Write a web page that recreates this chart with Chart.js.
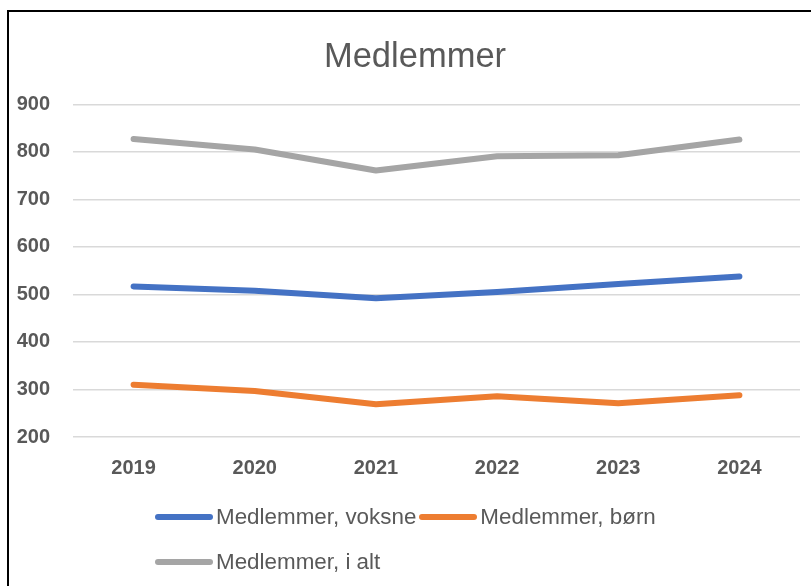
<!DOCTYPE html>
<html>
<head>
<meta charset="utf-8">
<script src="https://cdn.jsdelivr.net/npm/chart.js@4"></script>
<style>
  html, body { margin: 0; padding: 0; background: #fff; overflow: hidden; }
  #wrap { position: relative; width: 811px; height: 586px; overflow: hidden; }
  #frame { position: absolute; left: 7px; top: 10px; width: 1000px; height: 1000px;
           border-left: 2px solid #000; border-top: 2px solid #000; }
  #myChart { position: absolute; left: 0; top: 0; }
  #legend { position: absolute; left: 155px; top: 503px; width: 540px;
            display: flex; flex-wrap: wrap; row-gap: 17px;
            font-family: "Liberation Sans", Arial, sans-serif; font-size: 22.4px; color: #595959; }
  .item { display: flex; align-items: center; height: 28px; margin-right: 3px; }
  .swatch { width: 58px; height: 6px; border-radius: 3px; margin-right: 3px; }
</style>
</head>
<body>
<div id="wrap">
  <div id="frame"></div>
  <canvas id="myChart" width="816" height="586"></canvas>
  <div id="legend"></div>
</div>
<script>
const aar = ['2019', '2020', '2021', '2022', '2023', '2024'];
const voksne = [517, 508, 492, 505, 522, 538];
const boern = [310, 297, 269, 286, 271, 288];
const iAlt = [827, 805, 761, 791, 793, 826];

const grå = '#595959';
const tickFont = { family: '"Liberation Sans", Arial, sans-serif', size: 20, weight: 'bold' };
const ctx = document.getElementById('myChart');

const chart = new Chart(ctx, {
    type: 'line',
    data: {
        labels: aar,
        datasets: [
            { label: 'Medlemmer, voksne', data: voksne, borderColor: '#4472C4', backgroundColor: '#4472C4' },
            { label: 'Medlemmer, børn', data: boern, borderColor: '#ED7D31', backgroundColor: '#ED7D31' },
            { label: 'Medlemmer, i alt', data: iAlt, borderColor: '#A5A5A5', backgroundColor: '#A5A5A5' }
        ]
    },
    options: {
        responsive: false,
        animation: false,
        layout: { padding: { left: 14, right: 0, top: 0, bottom: 104 } },
        elements: {
            line: { borderWidth: 6, borderCapStyle: 'round', borderJoinStyle: 'round', tension: 0 },
            point: { radius: 0 }
        },
        plugins: {
            legend: { display: false },
            tooltip: { enabled: false },
            title: {
                display: true,
                text: 'Medlemmer',
                color: grå,
                font: { family: '"Liberation Sans", Arial, sans-serif', size: 34.5, weight: 'normal' },
                padding: { top: 37, bottom: 26 }
            }
        },
        scales: {
            x: {
                offset: true,
                grid: { display: false },
                border: { display: false },
                ticks: { color: grå, padding: 11, font: tickFont },
                afterFit: (scale) => { scale.height = 45; }
            },
            y: {
                min: 200,
                max: 900,
                grid: { color: '#D9D9D9', lineWidth: 1.5, drawTicks: false },
                border: { display: false },
                ticks: { stepSize: 100, color: grå, padding: 23, font: tickFont },
                afterFit: (scale) => { scale.width = 59; }
            },
            // empty right axis, only to leave the Excel-like margin on the right
            y2: {
                position: 'right',
                min: 200,
                max: 900,
                grid: { display: false },
                border: { display: false },
                ticks: { display: false },
                afterFit: (scale) => { scale.width = 16; }
            }
        }
    }
});

// legend built from the datasets, laid out like the Excel legend
const legendEl = document.getElementById('legend');
chart.data.datasets.forEach(ds => {
    const item = document.createElement('div');
    item.className = 'item';
    const sw = document.createElement('span');
    sw.className = 'swatch';
    sw.style.background = ds.borderColor;
    const txt = document.createElement('span');
    txt.textContent = ds.label;
    item.appendChild(sw);
    item.appendChild(txt);
    legendEl.appendChild(item);
});
</script>
</body>
</html>
